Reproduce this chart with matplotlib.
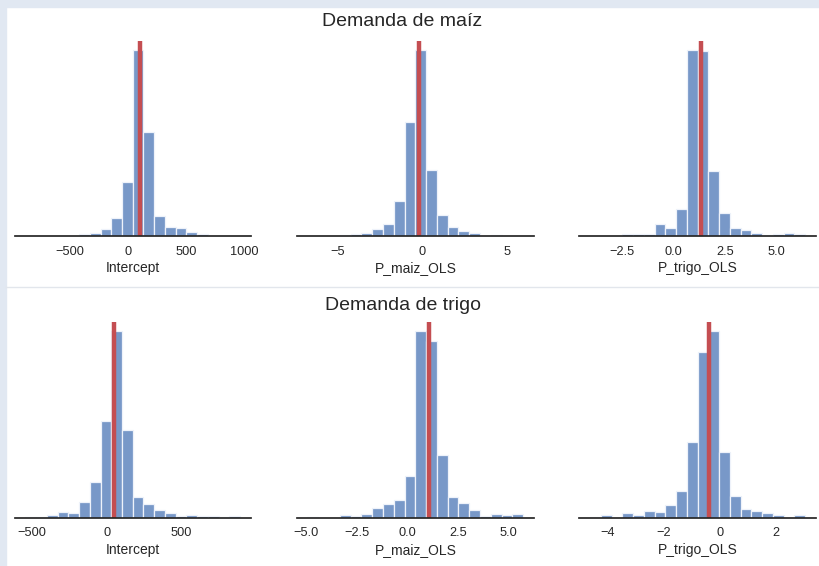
import numpy as np
import matplotlib
matplotlib.use('Agg')
import matplotlib.pyplot as plt
from matplotlib.patches import Rectangle
from matplotlib.lines import Line2D

plt.rcParams['font.family'] = ['Liberation Sans', 'DejaVu Sans']

# bootstrap histograms: first bin start, bin width, counts (20 bins each)
maiz_intercept_start, maiz_intercept_width = -880, 92
maiz_intercept_counts = [0, 0, 1, 1, 1, 6, 9, 21, 53, 162, 555, 312, 60, 28, 24, 12, 6, 1, 0, 0]
maiz_intercept_ols = 99

maiz_pmaiz_start, maiz_pmaiz_width = -6.79, 0.638
maiz_pmaiz_counts = [1, 0, 0, 2, 6, 10, 22, 37, 105, 342, 555, 198, 62, 27, 16, 9, 1, 2, 0, 0]
maiz_pmaiz_ols = -0.2

maiz_ptrigo_start, maiz_ptrigo_width = -4.02, 0.5195
maiz_ptrigo_counts = [1, 0, 1, 5, 6, 6, 35, 24, 81, 555, 552, 195, 69, 24, 18, 10, 3, 6, 9, 6]
maiz_ptrigo_ols = 1.33

trigo_intercept_start, trigo_intercept_width = -543, 71.7
trigo_intercept_counts = [3, 3, 8, 17, 13, 46, 106, 287, 556, 263, 62, 40, 22, 15, 5, 8, 4, 4, 1, 4]
trigo_intercept_ols = 51

trigo_pmaiz_start, trigo_pmaiz_width = -4.95, 0.533
trigo_pmaiz_counts = [1, 0, 0, 7, 5, 10, 28, 41, 52, 125, 556, 526, 186, 61, 45, 23, 6, 12, 8, 10]
trigo_pmaiz_ols = 1.06

trigo_ptrigo_start, trigo_ptrigo_width = -4.645, 0.3845
trigo_ptrigo_counts = [1, 7, 0, 13, 7, 19, 17, 38, 79, 225, 493, 556, 196, 64, 26, 19, 13, 8, 0, 7]
trigo_ptrigo_ols = -0.40

labels = ['Intercept', 'P_maiz_OLS', 'P_trigo_OLS']
ticks = [[-500, 0, 500, 1000], [-5, 0, 5], [-2.5, 0.0, 2.5, 5.0],
         [-500, 0, 500], [-5.0, -2.5, 0.0, 2.5, 5.0], [-4, -2, 0, 2]]

panels = [
    (maiz_intercept_start, maiz_intercept_width, maiz_intercept_counts, maiz_intercept_ols),
    (maiz_pmaiz_start, maiz_pmaiz_width, maiz_pmaiz_counts, maiz_pmaiz_ols),
    (maiz_ptrigo_start, maiz_ptrigo_width, maiz_ptrigo_counts, maiz_ptrigo_ols),
    (trigo_intercept_start, trigo_intercept_width, trigo_intercept_counts, trigo_intercept_ols),
    (trigo_pmaiz_start, trigo_pmaiz_width, trigo_pmaiz_counts, trigo_pmaiz_ols),
    (trigo_ptrigo_start, trigo_ptrigo_width, trigo_ptrigo_counts, trigo_ptrigo_ols),
]

W, H = 820, 566
fig = plt.figure(figsize=(W / 100, H / 100), dpi=100, facecolor='white')

# notebook frame
fig.patches.append(Rectangle((0, 0), 6 / W, 1, transform=fig.transFigure, color='#e1e8f2', zorder=0))
fig.patches.append(Rectangle((0, 1 - 7 / H), 1, 7 / H, transform=fig.transFigure, color='#e1e8f2', zorder=0))
fig.lines.append(Line2D([6 / W, 1], [1 - 287 / H, 1 - 287 / H], transform=fig.transFigure, color='#e2e6ec', lw=1))

cols = [(14.7, 236), (296.7, 237.3), (579.3, 236.7)]
rows = [(41, 195), (322, 195.7)]

for i, (start, width, counts, ols) in enumerate(panels):
    r, c = divmod(i, 3)
    x0, w = cols[c]
    y0, h = rows[r]
    ax = fig.add_axes([x0 / W, 1 - (y0 + h) / H, w / W, h / H])
    edges = start + width * np.arange(len(counts))
    ax.bar(edges, counts, width=width, align='edge', color='#7898c8',
           edgecolor='#eef2fa', linewidth=0.9)
    ax.axvline(ols, color='#c44e52', lw=3.2)
    ax.set_xticks(ticks[i])
    ax.set_yticks([])
    ax.tick_params(axis='x', length=0, pad=7, labelsize=9.2, colors='#262626')
    ax.set_xlabel(labels[c], fontsize=10, labelpad=2.5, color='#262626')
    for s in ['top', 'left', 'right']:
        ax.spines[s].set_visible(False)
    ax.spines['bottom'].set_color('#262626')
    ax.spines['bottom'].set_linewidth(1.25)
    ax.set_ylim(0, max(counts) * 1.05)

fig.text(0.490, 1 - 22 / H, 'Demanda de maíz', ha='center', va='center', fontsize=14, color='#262626')
fig.text(0.491, 1 - 305 / H, 'Demanda de trigo', ha='center', va='center', fontsize=14, color='#262626')

fig.savefig('out.png', dpi=100)
